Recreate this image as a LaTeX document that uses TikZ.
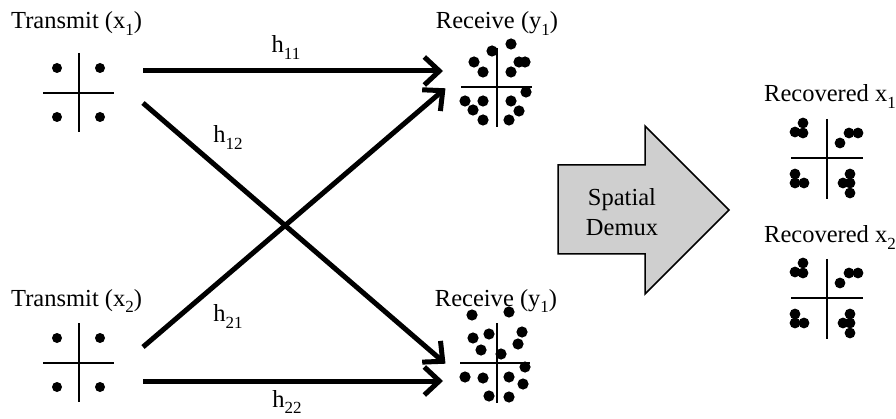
\documentclass[tikz,border=0pt]{standalone}
\usepackage{fontspec}
\setmainfont{Liberation Serif}
\usetikzlibrary{arrows.meta}
\newcommand{\lsub}[1]{\raisebox{-0.25em}{\fontsize{17}{17}\selectfont #1}}
\tikzset{
  lbl/.style={inner sep=0pt, anchor=base, font=\fontsize{24.5}{28}\selectfont},
  chan/.style={line width=5pt, -{Straight Barb[length=15pt,width=28pt,line width=5pt]}, shorten >=2pt},
  axis/.style={line width=2pt},
}
\begin{document}
\begin{tikzpicture}[x=1pt,y=-1pt]
\useasboundingbox (0,0) rectangle (896,419);
% titles
\node[lbl, anchor=base west] (tt1) at (11,29) {Transmit (x\lsub{1})};
\node[lbl, anchor=base west] (tt2) at (11,306) {Transmit (x\lsub{2})};
\node[lbl] (tr1) at (497,29) {Receive (y\lsub{1})};
\node[lbl] (tr2) at (496,306) {Receive (y\lsub{1})};
\node[lbl] (trc1) at (830,102) {Recovered x\lsub{1}};
\node[lbl] (trc2) at (830,243) {Recovered x\lsub{2}};
% transmit constellations
\foreach \oy in {0,270} {
  \begin{scope}[yshift=-\oy pt]
  \draw[axis] (79,53) -- (79,132);
  \draw[axis] (43,93) -- (114,93);
  \foreach \px/\py in {57/68,100/68,57/117,100/117} \fill (\px,\py) circle (5);
  \end{scope}
}
% receive constellation 1
\draw[axis] (497,48) -- (497,127);
\draw[axis] (461,87) -- (532,87);
\foreach \px/\py in {492/51,511/44,474/62,519/62,525/62,483/72,511/72,526/92,465/101,483/101,473/110,511/101,519/111,483/120,509/120}
  \fill (\px,\py) circle (5.6);
% receive constellation 2
\draw[axis] (497,323) -- (497,403);
\draw[axis] (460,363) -- (530,363);
\foreach \px/\py in {472/315,509/312,473/338,489/334,522/332,481/350,518/344,501/354,525/367,465/377,483/378,509/377,523/384,489/396,509/397}
  \fill (\px,\py) circle (5.6);
% recovered constellations
\foreach \oy in {0,140} {
  \begin{scope}[yshift=-\oy pt]
  \draw[axis] (827,119) -- (827,199);
  \draw[axis] (791,158) -- (863,158);
  \foreach \px/\py in {803/123,795/132,803/133,840/143,849/133,858/133,795/174,795/183,804/183,850/174,843/183,850/183,850/193}
    \fill (\px,\py) circle (5.4);
  \end{scope}
}
% channel coordinates
\coordinate (a1) at (143,71);
\coordinate (b1) at (445,71);
\coordinate (a2) at (143,103);
\coordinate (b2) at (447,365);
\coordinate (a3) at (143,347);
\coordinate (b3) at (447,87);
\coordinate (a4) at (143,381);
\coordinate (b4) at (445,381);
\draw[chan] (a1) -- (b1);
\draw[chan] (a2) -- (b2);
\draw[chan] (a3) -- (b3);
\draw[chan] (a4) -- (b4);
\node[lbl] (h11) at (286,53) {h\lsub{11}};
\node[lbl] (h12) at (228,143) {h\lsub{12}};
\node[lbl] (h21) at (228,322) {h\lsub{21}};
\node[lbl] (h22) at (287,407) {h\lsub{22}};
% big arrow
\draw[line width=1.5pt, fill=black!19, line join=miter]
  (558,165) -- (645,165) -- (645,126) -- (729,210) -- (645,294) -- (645,254) -- (558,254) -- cycle;
\node[lbl] (sp) at (622,206) {Spatial};
\node[lbl] (dm) at (622,236) {Demux};
\end{tikzpicture}
\end{document}
